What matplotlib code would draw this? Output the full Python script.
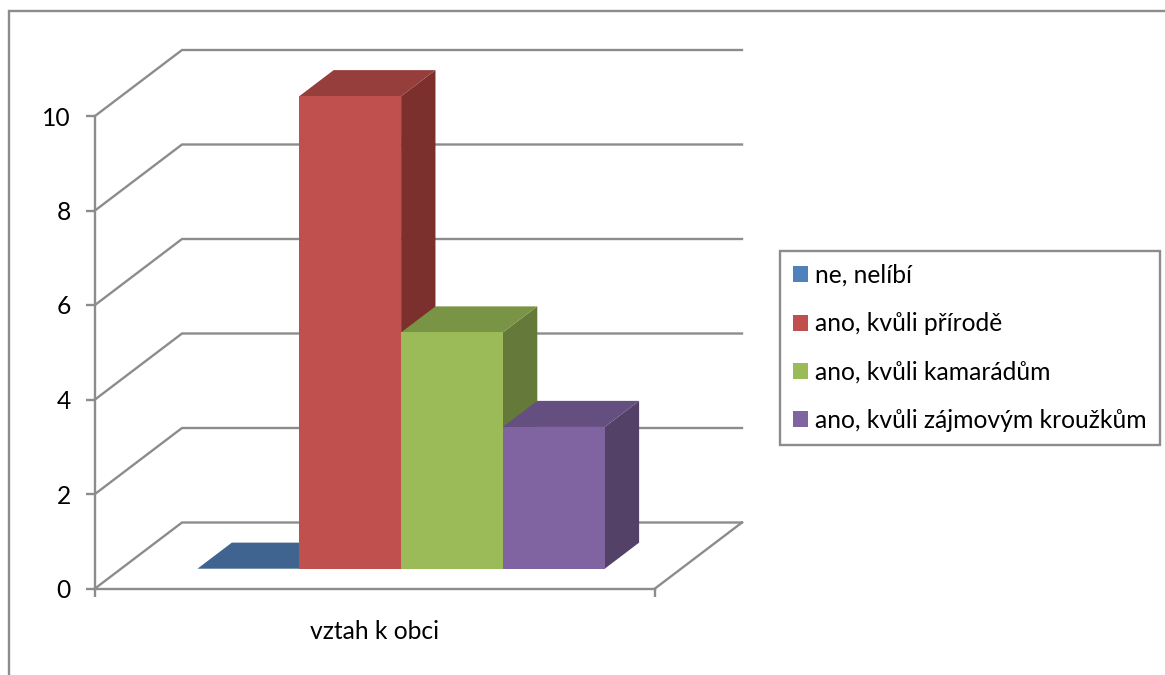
import matplotlib
matplotlib.use("Agg")
import matplotlib.pyplot as plt
from matplotlib.patches import Patch, Rectangle

plt.rcParams['font.family'] = ['Lato', 'Noto Sans', 'DejaVu Sans']

category = "vztah k obci"
series_names = ["ne, nelíbí", "ano, kvůli přírodě", "ano, kvůli kamarádům", "ano, kvůli zájmovým kroužkům"]
series_values = [0, 10, 5, 3]
y_ticks = [0, 2, 4, 6, 8, 10]

front = ["#4F81BD", "#C0504D", "#9BBB59", "#8064A2"]
top = ["#3F648F", "#953E3B", "#7A9446", "#654E80"]
side = ["#33506F", "#7C302E", "#64793A", "#534168"]
LINE = "#8C8C8C"
LW = 1.7

W, H = 1165, 675
fig = plt.figure(figsize=(W / 100, H / 100), dpi=100, facecolor="white")
L, R, T, B = 95, 655, 116, 588.5
ax = fig.add_axes([L / W, 1 - B / H, (R - L) / W, (B - T) / H])
ax.patch.set_alpha(0)
ax.set_xlim(-0.5, 0.5)
ax.set_ylim(0, 10)
px_x = (R - L)
px_y = (B - T) / 10
DX, DY = 87 / px_x, 66 / px_y   # full depth of the floor, in data units


def proj(x, y, d):
    return x + d * DX, y + d * DY


# walls: gridlines with diagonal
for v in y_ticks:
    p0 = proj(-0.5, v, 0)
    p1 = proj(-0.5, v, 1)
    p2 = proj(0.5, v, 1)
    ax.plot([p0[0], p1[0], p2[0]], [p0[1], p1[1], p2[1]], color=LINE, lw=LW,
            clip_on=False, zorder=1, solid_joinstyle="miter")
p3 = proj(0.5, 0, 0)
p4 = proj(0.5, 0, 1)
ax.plot([p3[0], p4[0]], [p3[1], p4[1]], color=LINE, lw=LW, clip_on=False, zorder=1)

# bars
bw = 1 / (len(series_values) + 1.5)
d0, d1 = 0.30, 0.695
x_start = -len(series_values) * bw / 2
for i, v in enumerate(series_values):
    x0 = x_start + i * bw
    x1 = x0 + bw
    z = 3 + i
    corners_top = [proj(x0, v, d0), proj(x1, v, d0), proj(x1, v, d1), proj(x0, v, d1)]
    corners_side = [proj(x1, 0, d0), proj(x1, v, d0), proj(x1, v, d1), proj(x1, 0, d1)]
    corners_front = [proj(x0, 0, d0), proj(x1, 0, d0), proj(x1, v, d0), proj(x0, v, d0)]
    for pts, col in ((corners_side, side[i]), (corners_top, top[i]), (corners_front, front[i])):
        ax.fill([p[0] for p in pts], [p[1] for p in pts], color=col, lw=0,
                clip_on=False, zorder=z)

# axes
for s in ("top", "right"):
    ax.spines[s].set_visible(False)
for s in ("left", "bottom"):
    ax.spines[s].set_color(LINE)
    ax.spines[s].set_linewidth(LW)
    ax.spines[s].set_zorder(2)
ax.set_yticks(y_ticks)
ax.tick_params(axis="y", length=6.5, width=LW, color=LINE, pad=11, labelsize=17.7, labelcolor="black")
ax.set_xticks([-0.5, 0.5])
ax.set_xticklabels(["", ""])
ax.tick_params(axis="x", which="major", length=5.5, width=LW, color=LINE)
ax.set_xticks([0], minor=True)
ax.set_xticklabels([category], minor=True)
ax.tick_params(axis="x", which="minor", length=0, pad=23, labelsize=17.7, labelcolor="black")

# legend
handles = [Patch(facecolor=c, edgecolor="none", label=n) for c, n in zip(front, series_names)]
leg = fig.legend(handles=handles, loc="upper left", bbox_to_anchor=(780 / W, 1 - 251 / H),
                 bbox_transform=fig.transFigure, borderaxespad=0, fontsize=17.7,
                 frameon=True, fancybox=False, framealpha=1, edgecolor=LINE,
                 handlelength=0.61, handleheight=0.61, handletextpad=0.28,
                 borderpad=0.53, labelspacing=1.03, labelcolor="black")
leg.get_frame().set_linewidth(LW)

# chart frame, running past the right and bottom edges
fig.add_artist(Rectangle((9 / W, -0.05), 1.2, 1 - 11 / H + 0.05, transform=fig.transFigure,
                         facecolor="none", edgecolor=LINE, lw=LW, zorder=0))

fig.savefig("out.png", dpi=100, facecolor="white")
